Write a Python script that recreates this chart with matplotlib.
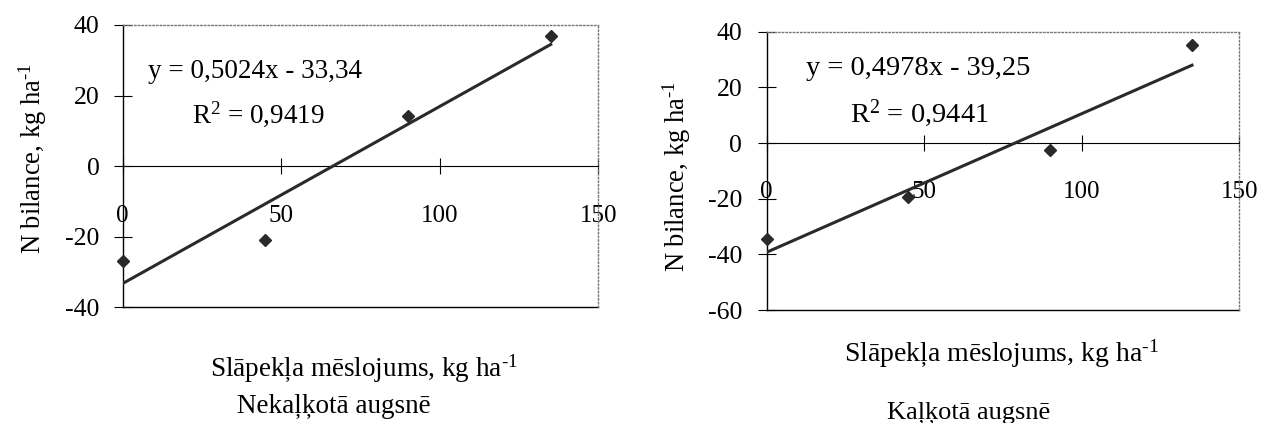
import numpy as np
import matplotlib.pyplot as plt

plt.rcParams['font.family'] = ['Liberation Serif', 'DejaVu Serif']
plt.rcParams['axes.unicode_minus'] = False
plt.rcParams['mathtext.fontset'] = 'custom'
plt.rcParams['mathtext.rm'] = 'Liberation Serif'
plt.rcParams['mathtext.it'] = 'Liberation Serif:italic'

# data
n_rate = [0, 45, 90, 135]
bal_unlimed = [-27, -21, 14.3, 37]
bal_limed = [-34.4, -19.5, -2.4, 35.1]

fit_unlimed = (0.5024, -33.34)
fit_limed = (0.4978, -39.25)

eq_unlimed = ["y = 0,5024x - 33,34", r"R$^{\text{2}}$ = 0,9419"]
eq_limed = ["y = 0,4978x - 39,25", r"R$^{\text{2}}$ = 0,9441"]

xticks = [0, 50, 100, 150]
yticks_unlimed = [-40, -20, 0, 20, 40]
yticks_limed = [-60, -40, -20, 0, 20, 40]

xlab = r"Slāpekļa mēslojums, kg ha$^{\text{-1}}$"
ylab = r"N bilance, kg ha$^{\text{-1}}$"

fig = plt.figure(figsize=(12.63, 4.23), dpi=100)
ax1 = fig.add_axes([0.0971, 0.2742, 0.3766, 0.6667])
ax2 = fig.add_axes([0.6070, 0.2671, 0.3742, 0.658])

dark = '#2a2a2a'


def panel(ax, y, fit, eq, yticks, eq_pos, r2_pos, eq_size, xpad, ypad, ylab_pos):
    ax.set_xlim(0, 150)
    ax.set_ylim(yticks[0], yticks[-1])
    xs = np.array([0, 135])
    ax.plot(xs, fit[0] * xs + fit[1], color=dark, lw=2.2, zorder=3)
    ax.plot(n_rate, y, ls='none', marker='D', ms=6.5, color=dark, zorder=4,
            clip_on=False)

    ax.spines['bottom'].set_position(('data', 0))
    ax.spines['bottom'].set_linewidth(0.8)
    for s in ['top', 'right']:
        ax.spines[s].set_linestyle(':')
        ax.spines[s].set_color('#777777')
        ax.spines[s].set_linewidth(1.0)
    ax.spines['left'].set_linewidth(1.0)

    ax.set_xticks(xticks)
    ax.set_yticks(yticks)
    ax.tick_params(axis='x', direction='inout', length=12, width=0.8,
                   pad=xpad, labelsize=18)
    ax.tick_params(axis='y', direction='inout', length=13, width=0.8,
                   pad=ypad, labelsize=18.5)

    # solid lower frame of the plot area
    frame = ax.secondary_xaxis('bottom')
    frame.set_xticks([])
    frame.spines['bottom'].set_linewidth(1.0)

    ax.text(eq_pos[0], eq_pos[1], eq[0], transform=ax.transAxes,
            fontsize=eq_size, ha='left', va='baseline')
    ax.text(r2_pos[0], r2_pos[1], eq[1], transform=ax.transAxes,
            fontsize=eq_size, ha='left', va='baseline')
    ax.set_ylabel(ylab, fontsize=19.2)
    ax.yaxis.set_label_coords(ylab_pos[0], ylab_pos[1])


panel(ax1, bal_unlimed, fit_unlimed, eq_unlimed, yticks_unlimed,
      (0.053, 0.812), (0.146, 0.656), 19.5, 22, 10, (-0.155, 0.527))
panel(ax2, bal_limed, fit_limed, eq_limed, yticks_limed,
      (0.0825, 0.844), (0.176, 0.676), 20.5, 21.5, 11, (-0.156, 0.481))

fig.text(0.1663, 0.1087, xlab, fontsize=19.5, ha='left', va='baseline')
fig.text(0.1876, 0.0236, "Nekaļķotā augsnē", fontsize=19.5, ha='left', va='baseline')
fig.text(0.6683, 0.1442, xlab, fontsize=20, ha='left', va='baseline')
fig.text(0.702, 0.0118, "Kaļķotā augsnē", fontsize=19, ha='left', va='baseline')

fig.savefig('out.png', dpi=100)
